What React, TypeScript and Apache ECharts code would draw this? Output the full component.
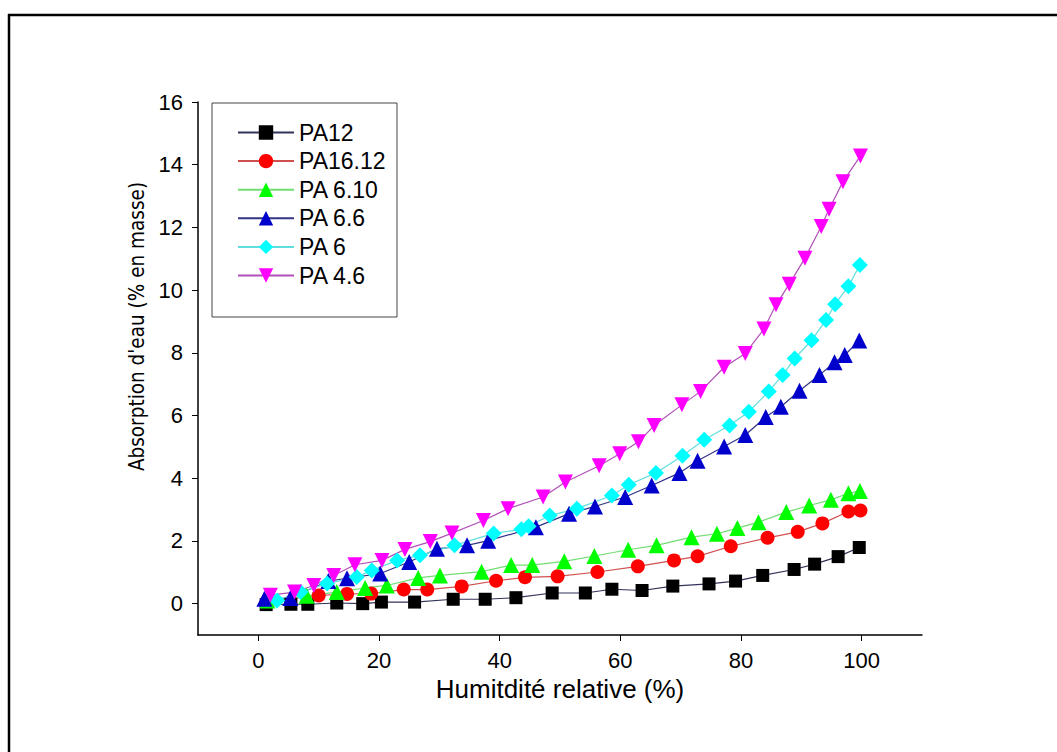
import React, { useEffect, useRef } from "react";
import * as echarts from "echarts";

const xTicks = [0, 20, 40, 60, 80, 100];
const yTicks = [0, 2, 4, 6, 8, 10, 12, 14, 16];

const pa12X = [1.3, 5.4, 8.2, 13, 17.3, 20.4, 25.9, 32.3, 37.6, 42.7, 48.7, 54.2, 58.6, 63.6, 68.7, 74.7, 79.1, 83.6, 88.8, 92.2, 96.1, 99.6];
const pa12Y = [-0.03, -0.02, -0.02, 0.02, 0, 0.05, 0.05, 0.14, 0.14, 0.19, 0.34, 0.34, 0.46, 0.42, 0.56, 0.63, 0.72, 0.9, 1.09, 1.26, 1.5, 1.79];

const pa1612X = [1.5, 10, 14.7, 18.7, 24.1, 28, 33.7, 39.4, 44.2, 49.6, 56.2, 62.9, 68.9, 72.8, 78.3, 84.4, 89.4, 93.5, 97.8, 99.8];
const pa1612Y = [0.08, 0.26, 0.31, 0.32, 0.45, 0.45, 0.55, 0.73, 0.84, 0.87, 1.01, 1.19, 1.38, 1.51, 1.83, 2.1, 2.29, 2.56, 2.94, 2.97];

const pa610X = [1.5, 8, 13, 17.7, 21.3, 26.5, 30.1, 37, 41.9, 45.4, 50.7, 55.7, 61.3, 66, 71.8, 76, 79.4, 82.9, 87.5, 91.3, 94.9, 97.8, 99.7];
const pa610Y = [0.1, 0.25, 0.37, 0.5, 0.58, 0.82, 0.9, 1.02, 1.23, 1.23, 1.35, 1.52, 1.72, 1.86, 2.12, 2.23, 2.41, 2.6, 2.92, 3.13, 3.31, 3.52, 3.59];

const pa66X = [1, 5.3, 11.6, 14.7, 20.2, 25, 29.6, 34.6, 38.1, 46, 51.5, 55.8, 60.8, 65.2, 69.8, 72.8, 77.2, 80.7, 84.1, 86.6, 89.7, 93, 95.5, 97.2, 99.6];
const pa66Y = [0.16, 0.18, 0.72, 0.81, 0.96, 1.33, 1.75, 1.86, 2.01, 2.44, 2.87, 3.1, 3.4, 3.77, 4.17, 4.56, 5.01, 5.38, 5.95, 6.28, 6.79, 7.29, 7.7, 7.93, 8.39];

const pa6X = [3.1, 7, 11.4, 16.3, 18.8, 23, 26.8, 32.5, 39, 43.6, 44.8, 48.3, 52.8, 58.6, 61.4, 65.9, 70.3, 73.9, 78.1, 81.3, 84.6, 86.9, 88.9, 91.7, 94.1, 95.6, 97.8, 99.7];
const pa6Y = [0.1, 0.37, 0.64, 0.85, 1.06, 1.38, 1.54, 1.86, 2.24, 2.37, 2.47, 2.81, 3.03, 3.45, 3.79, 4.17, 4.72, 5.23, 5.68, 6.12, 6.77, 7.29, 7.82, 8.4, 9.05, 9.55, 10.12, 10.8];

const pa46X = [2, 6, 9.2, 12.5, 16, 20.5, 24.3, 28.5, 32.1, 37.3, 41.4, 47.2, 50.9, 56.5, 59.9, 63, 65.6, 70.2, 73.3, 77.2, 80.7, 83.8, 85.8, 88, 90.6, 93.3, 94.6, 96.9, 99.8];
const pa46Y = [0.27, 0.37, 0.58, 0.9, 1.24, 1.38, 1.73, 1.98, 2.25, 2.65, 3.03, 3.4, 3.88, 4.4, 4.78, 5.16, 5.68, 6.34, 6.77, 7.54, 7.98, 8.76, 9.53, 10.19, 11.02, 12.03, 12.58, 13.46, 14.28];

const FONT = "'Liberation Sans', Arial, sans-serif";
const NARROW = "'DejaVu Sans Condensed', 'Liberation Sans', sans-serif";
const DOWN_TRI = "path://M0,0 L10,0 L5,9 Z";

function zip(xs: number[], ys: number[]) {
  return xs.map((x, i) => [x, ys[i]]);
}

export default function App() {
  const ref = useRef<HTMLDivElement>(null);
  useEffect(() => {
    if (!ref.current) return;
    const chart = echarts.init(ref.current, undefined, { renderer: "svg" });
    const mk = (name: string, xs: number[], ys: number[], symbol: string, size: number, color: string, lineColor: string) => ({
      name,
      type: "line",
      data: zip(xs, ys),
      symbol,
      symbolSize: size,
      itemStyle: { color },
      lineStyle: { color: lineColor, width: 1.2 },
      z: 3,
    });
    chart.setOption({
      animation: false,
      backgroundColor: "#ffffff",
      textStyle: { fontFamily: FONT },
      grid: { left: 198, top: 102, width: 724, height: 533, containLabel: false },
      xAxis: {
        type: "value",
        min: -10,
        max: 110,
        name: "Humitdité relative (%)",
        nameLocation: "middle",
        nameGap: 38,
        nameTextStyle: { fontSize: 26, color: "#000", fontFamily: FONT },
        axisLine: { show: true, onZero: false, lineStyle: { color: "#000", width: 1.5 } },
        axisTick: { show: true, inside: false, length: 6, customValues: xTicks, lineStyle: { color: "#000" } },
        axisLabel: { customValues: xTicks, fontSize: 22, color: "#000", margin: 14, fontFamily: FONT },
        splitLine: { show: false },
      },
      yAxis: {
        type: "value",
        min: -1,
        max: 16,
        name: "Absorption d'eau (% en masse)",
        nameLocation: "middle",
        nameRotate: 90,
        nameGap: 48,
        nameTextStyle: { fontSize: 20.5, color: "#000", fontFamily: NARROW, padding: [0, 0, 0, 84] },
        axisLine: { show: true, onZero: false, lineStyle: { color: "#000", width: 1.5 } },
        axisTick: { show: true, inside: false, length: 6, customValues: yTicks, lineStyle: { color: "#000" } },
        axisLabel: { customValues: yTicks, fontSize: 22, color: "#000", margin: 15, fontFamily: FONT },
        splitLine: { show: false },
      },
      legend: {
        orient: "vertical",
        left: 232,
        top: 116,
        itemWidth: 56,
        itemHeight: 18,
        itemGap: 5.6,
        textStyle: { fontSize: 23, color: "#000", lineHeight: 22, fontFamily: FONT },
        data: ["PA12", "PA16.12", "PA 6.10", "PA 6.6", "PA 6", "PA 4.6"],
      },
      graphic: [
        { type: "rect", shape: { x: 212, y: 103, width: 185, height: 214 }, style: { fill: "none", stroke: "#444", lineWidth: 1 }, z: 10 },
        { type: "line", shape: { x1: 9, y1: 14, x2: 9, y2: 752 }, style: { stroke: "#000", lineWidth: 2.5 } },
        { type: "line", shape: { x1: 8, y1: 15, x2: 1057, y2: 15 }, style: { stroke: "#000", lineWidth: 2.5 } },
      ],
      series: [
        mk("PA12", pa12X, pa12Y, "rect", 13, "#000000", "#33335a"),
        mk("PA16.12", pa1612X, pa1612Y, "circle", 14, "#ff0000", "#d05050"),
        mk("PA 6.10", pa610X, pa610Y, "triangle", 16, "#00ff00", "#70dd70"),
        mk("PA 6.6", pa66X, pa66Y, "triangle", 16, "#0000cc", "#333388"),
        mk("PA 6", pa6X, pa6Y, "diamond", 16, "#00ffff", "#60dddd"),
        mk("PA 4.6", pa46X, pa46Y, DOWN_TRI, 15, "#ff00ff", "#b050b8"),
      ],
    });
    return () => chart.dispose();
  }, []);
  return <div ref={ref} style={{ position: "fixed", left: 0, top: 0, width: 1057, height: 752 }} />;
}
